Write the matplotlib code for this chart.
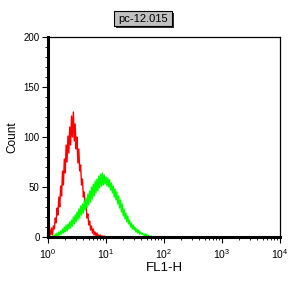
import numpy as np
import matplotlib.pyplot as plt
from matplotlib.ticker import FixedLocator, MultipleLocator, LogLocator, NullFormatter

plt.rcParams['font.family'] = ['Liberation Sans', 'DejaVu Sans']
plt.rcParams['mathtext.fontset'] = 'custom'
plt.rcParams['mathtext.rm'] = 'Liberation Sans'
plt.rcParams['mathtext.it'] = 'Liberation Sans'

# histogram counts, 64 channels per decade
ch_per_decade = 64
red_start = 0
red_counts = [4, 17, 6, 2, 9, 2, 11, 8, 19, 14, 29, 22, 40, 30, 51, 41, 66, 52,
              78, 64, 92, 75, 101, 84, 110, 92, 121, 100, 125, 96, 113, 88, 100,
              74, 88, 66, 72, 52, 58, 40, 45, 28, 33, 19, 23, 12, 16, 7, 11, 4,
              8, 2, 5, 1, 4, 1, 2, 0, 2, 0, 1, 0, 1, 0, 0]
green_start = 6
green_counts = [1, 0, 3, 0, 4, 1, 5, 2, 6, 3, 8, 4, 10, 5, 12, 6, 13, 8, 15, 9,
                17, 11, 20, 13, 22, 15, 25, 17, 28, 19, 31, 22, 33, 24, 36, 27,
                39, 29, 43, 32, 46, 35, 50, 38, 53, 41, 56, 44, 58, 46, 61, 49,
                63, 51, 64, 52, 62, 53, 60, 51, 59, 50, 57, 47, 54, 44, 51, 40,
                48, 37, 45, 33, 41, 29, 37, 25, 33, 21, 28, 18, 24, 15, 21, 13,
                17, 10, 14, 8, 12, 7, 10, 5, 8, 4, 7, 3, 5, 3, 4, 2, 3, 1, 3, 1,
                2, 1, 1, 0, 1, 0, 0, 0]
title = 'pc-12.015'
x_ticks = [1, 10, 100, 1000, 10000]
x_labels = ['$10^0$', '$10^1$', '$10^2$', '$10^3$', '$10^4$']
y_ticks = [0, 50, 100, 150, 200]

red_x = 10 ** ((red_start + np.arange(len(red_counts))) / ch_per_decade)
green_x = 10 ** ((green_start + np.arange(len(green_counts))) / ch_per_decade)

fig = plt.figure(figsize=(2.88, 2.88), dpi=100)
ax = fig.add_axes([48 / 288, 51 / 288, 232 / 288, 200 / 288])

ax.plot(red_x, red_counts, color='#ff0000', lw=1.0)
ax.plot(green_x, green_counts, color='#00ff00', lw=1.0)

ax.set_xscale('log')
ax.set_xlim(1, 10000)
ax.set_ylim(0, 200)
ax.xaxis.set_major_locator(FixedLocator(x_ticks))
ax.set_xticklabels(x_labels)
ax.xaxis.set_minor_locator(LogLocator(base=10, subs=np.arange(2, 10)))
ax.xaxis.set_minor_formatter(NullFormatter())
ax.set_yticks(y_ticks)
ax.yaxis.set_minor_locator(MultipleLocator(10))
ax.tick_params(which='major', direction='out', length=4, width=0.8, labelsize=7, pad=2)
ax.tick_params(which='minor', direction='out', length=2, width=0.6)
ax.tick_params(axis='x', which='major', labelsize=7.5, pad=3)

for s in ['left', 'bottom']:
    ax.spines[s].set_linewidth(2.2)
for s in ['top', 'right']:
    ax.spines[s].set_linewidth(0.9)

ax.set_xlabel('FL1-H', fontsize=9.5, labelpad=1)
ax.set_ylabel('Count', fontsize=8.5, labelpad=4)

# title box with drop shadow
fig.patches.append(plt.Rectangle((116 / 288, 1 - 28 / 288), 58 / 288, 15 / 288,
                                 transform=fig.transFigure, fc='#303030', ec='none'))
fig.patches.append(plt.Rectangle((114 / 288, 1 - 26 / 288), 58 / 288, 15 / 288,
                                 transform=fig.transFigure, fc='#c0c0c0', ec='black', lw=0.8))
fig.text(143 / 288, 1 - 18.5 / 288, title, ha='center', va='center', fontsize=8)

fig.savefig('out.png', dpi=100)
